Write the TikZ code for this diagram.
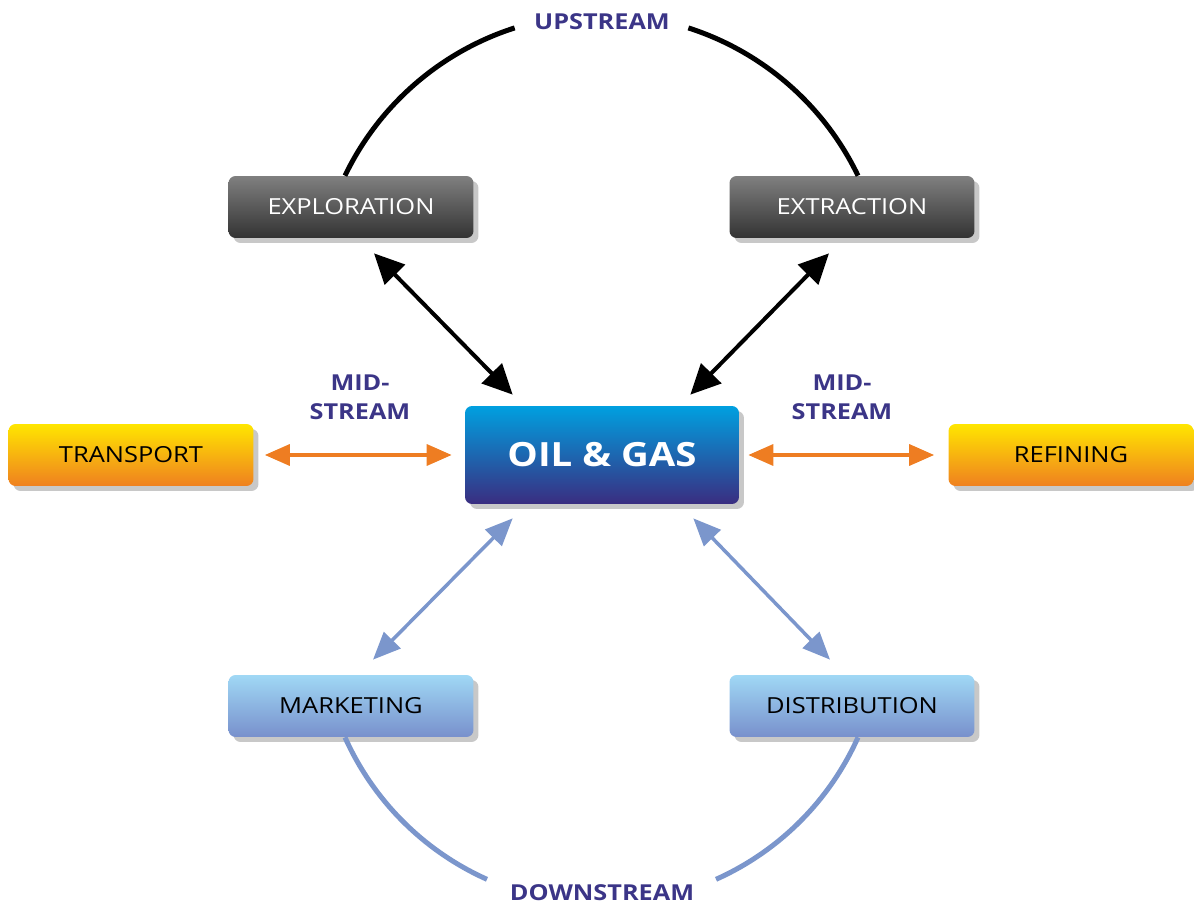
\documentclass[tikz,border=0pt]{standalone}
\usepackage{fontspec}
\setmainfont{Open Sans}[FakeStretch=1.15]
\usetikzlibrary{arrows.meta,shadows}

\definecolor{streamtext}{HTML}{3B3587}
\definecolor{shadowgray}{HTML}{C8C8C8}
\definecolor{arrorange}{HTML}{EE7D22}
\definecolor{arrblue}{HTML}{7B96CC}

\begin{document}
\begin{tikzpicture}[x=0.02cm, y=0.02cm, font=\fontsize{12.6}{15}\selectfont,
  box/.style={rounded corners=4pt, minimum width=4.9cm, minimum height=1.24cm,
    drop shadow={shadow xshift=0.1cm, shadow yshift=-0.1cm, fill=shadowgray, opacity=1}},
  upbox/.style={box, top color=black!50, bottom color=black!80, text=white},
  midbox/.style={box, top color={rgb,255:red,255;green,230;blue,0}, bottom color={rgb,255:red,239;green,128;blue,32}},
  downbox/.style={box, top color={rgb,255:red,160;green,216;blue,245}, bottom color={rgb,255:red,120;green,144;blue,204}},
  stream/.style={text=streamtext, font=\fontsize{12.5}{16.5}\selectfont\bfseries, align=center},
  upline/.style={line width=0.08cm, {Triangle[length=0.6cm, width=0.56cm]}-{Triangle[length=0.6cm, width=0.56cm]}},
  midline/.style={arrorange, line width=0.07cm, {Triangle[length=0.5cm, width=0.42cm]}-{Triangle[length=0.5cm, width=0.42cm]}},
  downline/.style={arrblue, line width=0.07cm, {Triangle[length=0.55cm, width=0.46cm]}-{Triangle[length=0.55cm, width=0.46cm]}}]
  \useasboundingbox (0,0) rectangle (1194,-905);
  % centre
  \node[box, minimum width=5.48cm, minimum height=1.96cm, text=white,
    top color={rgb,255:red,0;green,160;blue,224}, middle color={rgb,255:red,0;green,88;blue,164},
    bottom color={rgb,255:red,58;green,45;blue,128},
    font=\fontsize{19}{22}\selectfont\bfseries] (oil) at (602,-455) {OIL \& GAS};
  % upstream
  \node[upbox] (explo) at (351,-207) {EXPLORATION};
  \node[upbox] (extra) at (852,-207) {EXTRACTION};
  \node[stream] (up) at (602,-22) {UPSTREAM};
  \draw[line width=0.1cm] ([xshift=-0.12cm]explo.north) arc[start angle=154.3, end angle=107.8, radius=5.7cm];
  \draw[line width=0.1cm] ([xshift=0.12cm]extra.north) arc[start angle=25.7, end angle=72.2, radius=5.7cm];
  \draw[upline] ([shift={(23,-15)}]explo.south) -- ([shift={(48,11)}]oil.north west);
  \draw[upline] ([shift={(-23,-15)}]extra.south) -- ([shift={(-49,11)}]oil.north east);
  % midstream
  \node[midbox] (trans) at (131,-455) {TRANSPORT};
  \node[midbox] (refin) at (1071,-455) {REFINING};
  \node[stream] (midl) at (360,-397) {MID-\\STREAM};
  \node[stream] (midr) at (842,-397) {MID-\\STREAM};
  \draw[midline] ([shift={(11,0)}]trans.east) -- ([shift={(-13,0)}]oil.west);
  \draw[midline] ([shift={(9,0)}]oil.east) -- ([shift={(-14,0)}]refin.west);
  % downstream
  \node[downbox] (market) at (351,-706) {MARKETING};
  \node[downbox] (distri) at (852,-706) {DISTRIBUTION};
  \node[stream] (down) at (602,-893) {DOWNSTREAM};
  \draw[arrblue, line width=0.1cm] ([xshift=-0.12cm]market.south) arc[start angle=204.1, end angle=245.9, radius=5.63cm];
  \draw[arrblue, line width=0.1cm] ([xshift=0.12cm]distri.south) arc[start angle=-24.1, end angle=-65.9, radius=5.63cm];
  \draw[downline] ([shift={(48,-14)}]oil.south west) -- ([shift={(22,15)}]market.north);
  \draw[downline] ([shift={(-46,-14)}]oil.south east) -- ([shift={(-22,15)}]distri.north);
\end{tikzpicture}
\end{document}
